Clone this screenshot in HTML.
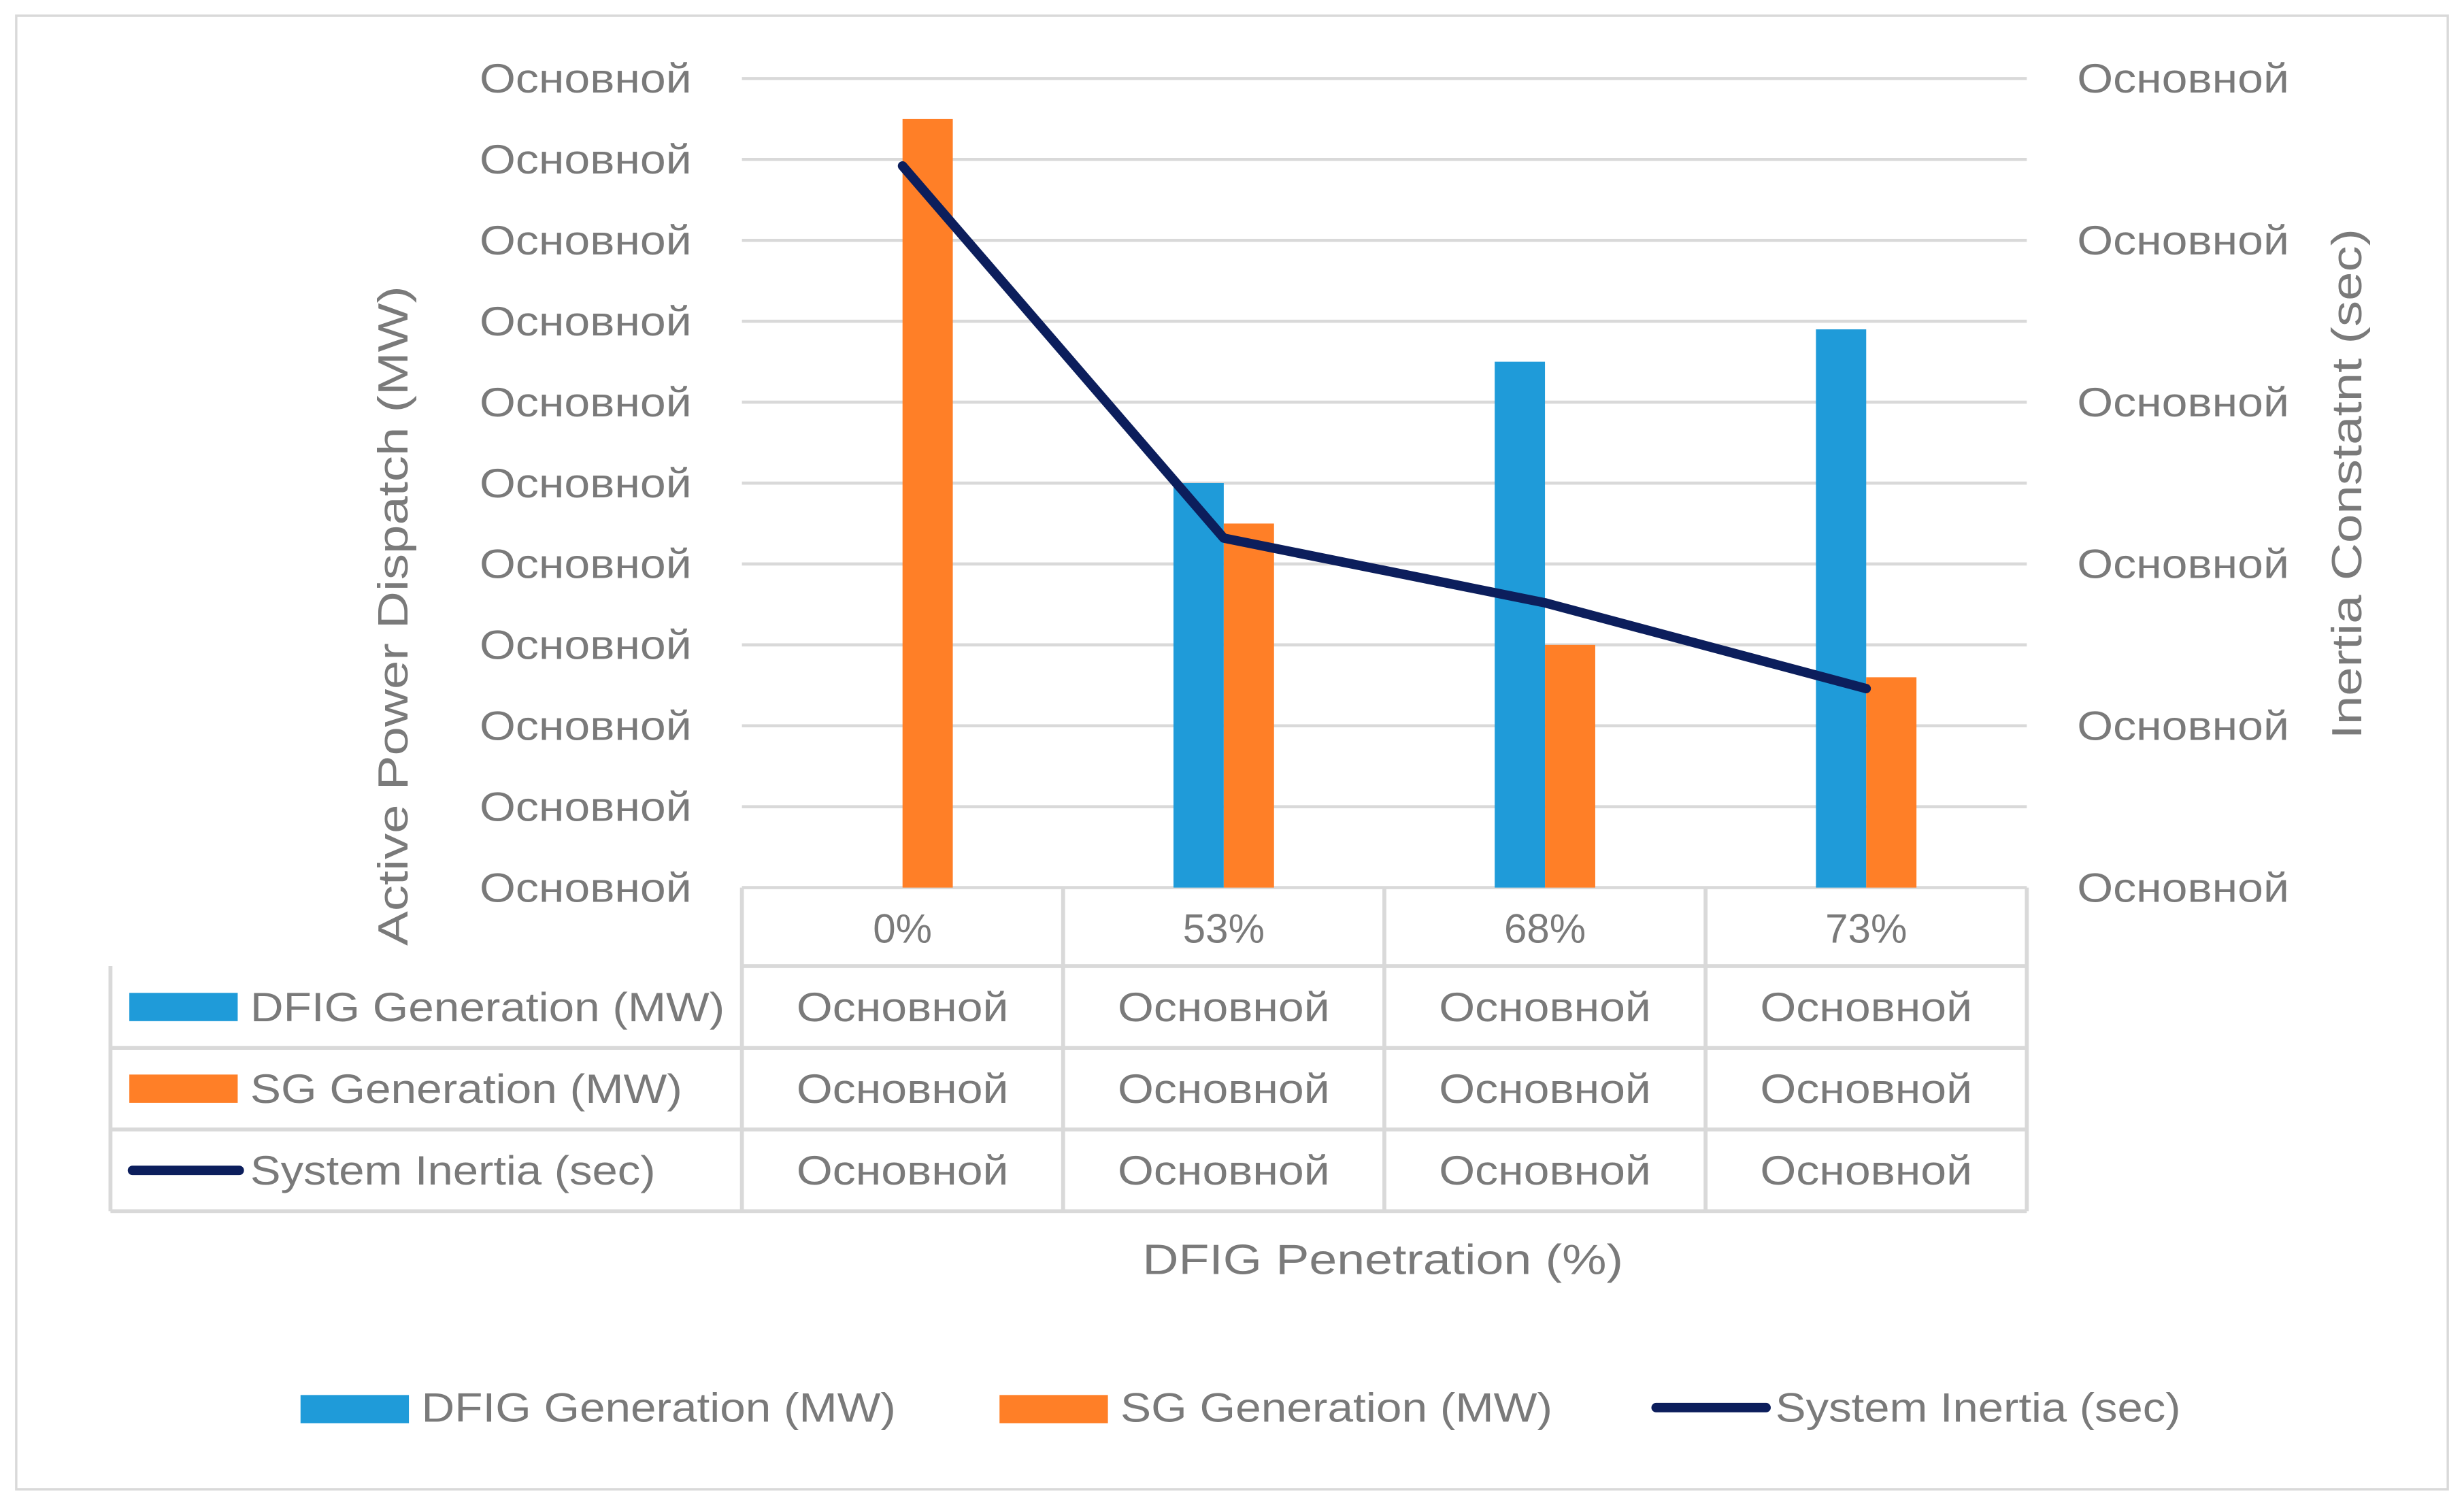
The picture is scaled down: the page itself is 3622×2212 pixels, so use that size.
<!DOCTYPE html>
<html><head><meta charset="utf-8">
<style>
html,body{margin:0;padding:0;background:#fff;}
svg{display:block;}
text{font-family:"Liberation Sans",sans-serif;fill:#7a7a7a;}
</style></head>
<body>
<svg id="chart" width="3622" height="2212" viewBox="0 0 1568 958" xmlns="http://www.w3.org/2000/svg">
<rect x="10" y="10" width="1548" height="938" fill="#fff" stroke="#d9d9d9" stroke-width="1.5"/>
<g id="grid"></g>
<g id="bars"></g>
<g id="table"></g>
<g id="line"></g>
<g id="labels"></g>
<text transform="translate(259,392) rotate(-90)" text-anchor="middle" font-size="27" textLength="420" lengthAdjust="spacingAndGlyphs">Active Power Dispatch (MW)</text>
<text transform="translate(1503,308) rotate(-90)" text-anchor="middle" font-size="27" textLength="325" lengthAdjust="spacingAndGlyphs">Inertia Constatnt (sec)</text>
<text x="880" y="811" text-anchor="middle" font-size="27" textLength="306" lengthAdjust="spacingAndGlyphs">DFIG Penetration (%)</text>
<g>
<rect x="191" y="888" width="69" height="18" fill="#1f9bd9"/>
<text x="268" y="905" font-size="26" textLength="302" lengthAdjust="spacingAndGlyphs">DFIG Generation (MW)</text>
<rect x="636" y="888" width="69" height="18" fill="#ff7f27"/>
<text x="713" y="905" font-size="26" textLength="275" lengthAdjust="spacingAndGlyphs">SG Generation (MW)</text>
<line x1="1054" y1="896" x2="1124" y2="896" stroke="#0c1e5c" stroke-width="6" stroke-linecap="round"/>
<text x="1130" y="905" font-size="26" textLength="258" lengthAdjust="spacingAndGlyphs">System Inertia (sec)</text>
</g>
</svg>
<script>
const categories = ["0%", "53%", "68%", "73%"];
const dfigValues = [0, 5, 6.5, 6.9];
const sgValues = [9.5, 4.5, 3, 2.6];
const inertiaValues = [4.46, 2.16, 1.76, 1.23];
const leftTicks = [0,1,2,3,4,5,6,7,8,9,10];
const rightTicks = [0,1,2,3,4,5];
const tickLabel = "Основной";

const NS = "http://www.w3.org/2000/svg";
const X0 = 472, X1 = 1290, Y0 = 565, Y1 = 50;
const catW = (X1 - X0) / categories.length;
const yL = v => Y0 - (v / 10) * (Y0 - Y1);
const yR = v => Y0 - (v / 5) * (Y0 - Y1);
const xC = i => X0 + catW * (i + 0.5);
function mk(tag, attrs, parent, txt) {
  const e = document.createElementNS(NS, tag);
  for (const k in attrs) e.setAttribute(k, attrs[k]);
  if (txt !== undefined) e.textContent = txt;
  parent.appendChild(e);
  return e;
}
const grid = document.getElementById('grid');
const bars = document.getElementById('bars');
const table = document.getElementById('table');
const lineG = document.getElementById('line');
const labels = document.getElementById('labels');

leftTicks.forEach(t => {
  const l = mk('line', {x1: X0, x2: X1, y1: yL(t), y2: yL(t), stroke: '#d9d9d9', 'stroke-width': 2}, grid);
  
  
  const tx = mk('text', {x: 440, y: yL(t) + 9, 'text-anchor': 'end', 'font-size': 26, textLength: 135, lengthAdjust: 'spacingAndGlyphs'}, labels, tickLabel);
  
  
});
rightTicks.forEach(t => {
  const tx = mk('text', {x: 1322, y: yR(t) + 9, 'font-size': 26, textLength: 135, lengthAdjust: 'spacingAndGlyphs'}, labels, tickLabel);
  
  
});
const bw = 32;
categories.forEach((c, i) => {
  const cx = xC(i);
  if (dfigValues[i] > 0) {
    const b = mk('rect', {x: cx - bw, y: yL(dfigValues[i]), width: bw, height: Y0 - yL(dfigValues[i]), fill: '#1f9bd9'}, bars);
    
    
  }
  const s = mk('rect', {x: cx, y: yL(sgValues[i]), width: bw, height: Y0 - yL(sgValues[i]), fill: '#ff7f27'}, bars);
  
  
});
// table
const rowH = [565, 615, 667, 719, 771];
const tstroke = {stroke: '#d9d9d9', 'stroke-width': 2.5};
mk('line', Object.assign({x1: X0, x2: X1, y1: 615, y2: 615}, tstroke), table);
[667, 719, 771].forEach(y => mk('line', Object.assign({x1: 70, x2: X1, y1: y, y2: y}, tstroke), table));
mk('line', Object.assign({x1: 70, x2: 70, y1: 615, y2: 771}, tstroke), table);
for (let i = 0; i <= categories.length; i++) {
  mk('line', Object.assign({x1: X0 + catW * i, x2: X0 + catW * i, y1: 565, y2: 771}, tstroke), table);
}
categories.forEach((c, i) => {
  const t = mk('text', {x: xC(i), y: 600, 'text-anchor': 'middle', 'font-size': 26}, labels, c);
  
  
  [650, 702, 754].forEach(y => {
    const v = mk('text', {x: xC(i), y: y, 'text-anchor': 'middle', 'font-size': 26, textLength: 135, lengthAdjust: 'spacingAndGlyphs'}, labels, tickLabel);
    
    
  });
});
mk('rect', {x: 82, y: 632, width: 69, height: 18, fill: '#1f9bd9'}, table);
mk('text', {x: 159, y: 650, 'font-size': 26, textLength: 302, lengthAdjust: 'spacingAndGlyphs'}, labels, 'DFIG Generation (MW)');
mk('rect', {x: 82, y: 684, width: 69, height: 18, fill: '#ff7f27'}, table);
mk('text', {x: 159, y: 702, 'font-size': 26, textLength: 275, lengthAdjust: 'spacingAndGlyphs'}, labels, 'SG Generation (MW)');
mk('line', {x1: 84, x2: 152, y1: 745, y2: 745, stroke: '#0c1e5c', 'stroke-width': 6, 'stroke-linecap': 'round'}, table);
mk('text', {x: 159, y: 754, 'font-size': 26, textLength: 258, lengthAdjust: 'spacingAndGlyphs'}, labels, 'System Inertia (sec)');
// line
const pts = inertiaValues.map((v, i) => xC(i) + ',' + yR(v)).join(' ');
const pl = mk('polyline', {points: pts, fill: 'none', stroke: '#0c1e5c', 'stroke-width': 6, 'stroke-linejoin': 'round', 'stroke-linecap': 'round'}, lineG);


</script>
</body></html>
